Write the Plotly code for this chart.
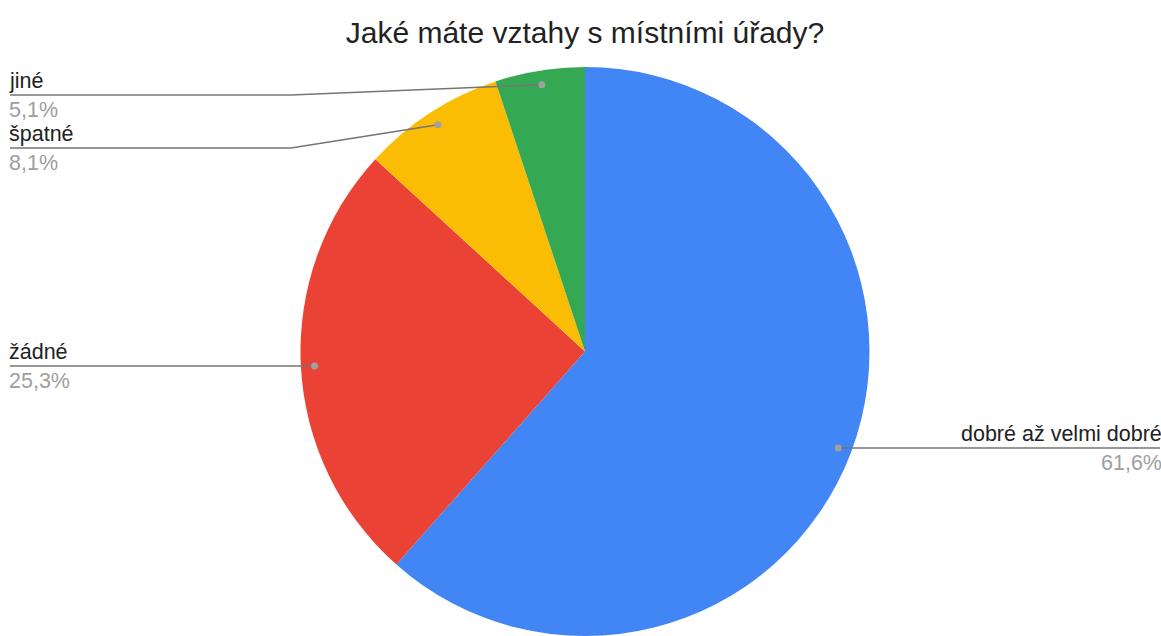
import math
import plotly.graph_objects as go

# ---- data ----
categories = ["dobré až velmi dobré", "žádné", "špatné", "jiné"]
values = [61.6, 25.3, 8.1, 5.1]
pct_labels = ["61,6%", "25,3%", "8,1%", "5,1%"]
colors = ["#4285F4", "#EA4335", "#FBBC04", "#34A853"]
title = "Jaké máte vztahy s místními úřady?"

# ---- layout constants (page pixels) ----
W, H = 1161, 636
CX, CY, R = 585, 352, 285
DOT_R = 0.95 * R
LEFT_X, RIGHT_X = 10, 1160
ELBOW_X = 291
FONT = "Liberation Sans, Arial"
LBL_SIZE = 21.5
# label-line y for the stacked small slices on the left (layout positions)
stack_y = {"špatné": 148, "jiné": 95}


def px(x):
    return x / W


def py(y):
    return 1 - y / H


fig = go.Figure(go.Pie(
    labels=categories, values=values, sort=False, direction="clockwise", rotation=0,
    marker=dict(colors=colors, line=dict(width=0)),
    textinfo="none", hoverinfo="label+percent", showlegend=False,
    domain=dict(x=[px(CX - R), px(CX + R)], y=[max(0, py(CY + R)), py(CY - R)]),
))

shapes, annots = [], []
total = sum(values)
cum = 0.0
LINE = dict(color="#757575", width=1.5)
for cat, v, pl in zip(categories, values, pct_labels):
    mid = (cum + v / 2) / total * 2 * math.pi
    cum += v
    dx = CX + DOT_R * math.sin(mid)
    dy = CY - DOT_R * math.cos(mid)
    right = math.sin(mid) > 0
    ly = stack_y.get(cat, dy)
    if right:
        shapes.append(dict(type="line", xref="paper", yref="paper", x0=px(dx), y0=py(dy),
                           x1=px(RIGHT_X), y1=py(ly), line=LINE))
        xa, anchor = RIGHT_X, "right"
    else:
        if cat in stack_y:
            shapes.append(dict(type="line", xref="paper", yref="paper", x0=px(dx), y0=py(dy),
                               x1=px(ELBOW_X), y1=py(ly), line=LINE))
            shapes.append(dict(type="line", xref="paper", yref="paper", x0=px(ELBOW_X), y0=py(ly),
                               x1=px(LEFT_X), y1=py(ly), line=LINE))
        else:
            shapes.append(dict(type="line", xref="paper", yref="paper", x0=px(dx), y0=py(dy),
                               x1=px(LEFT_X), y1=py(ly), line=LINE))
        xa, anchor = LEFT_X, "left"
    shapes.append(dict(type="circle", xref="paper", yref="paper",
                       x0=px(dx - 3.5), x1=px(dx + 3.5), y0=py(dy + 3.5), y1=py(dy - 3.5),
                       fillcolor="#A0A0A0", line=dict(width=0)))
    annots.append(dict(xref="paper", yref="paper", x=px(xa), y=py(ly - 1), text=cat,
                       showarrow=False, xanchor=anchor, yanchor="bottom", borderpad=0,
                       xshift=(3 if anchor == "right" else -2),
                       font=dict(family=FONT, size=LBL_SIZE, color="#222222")))
    annots.append(dict(xref="paper", yref="paper", x=px(xa), y=py(ly + 2), text=pl,
                       showarrow=False, xanchor=anchor, yanchor="top", borderpad=0,
                       xshift=(3 if anchor == "right" else -2),
                       font=dict(family=FONT, size=LBL_SIZE, color="#9E9E9E")))

fig.update_layout(
    width=W, height=H, margin=dict(l=0, r=0, t=0, b=0),
    paper_bgcolor="white", plot_bgcolor="white",
    title=dict(text=title, x=px(585), xanchor="center", y=py(32), yanchor="middle",
               font=dict(family=FONT, size=30, color="#222222")),
    shapes=shapes, annotations=annots,
)

fig.write_html("out.html", config={"displayModeBar": False},
               post_script="document.body.style.margin='0';document.body.style.overflow='hidden';")
